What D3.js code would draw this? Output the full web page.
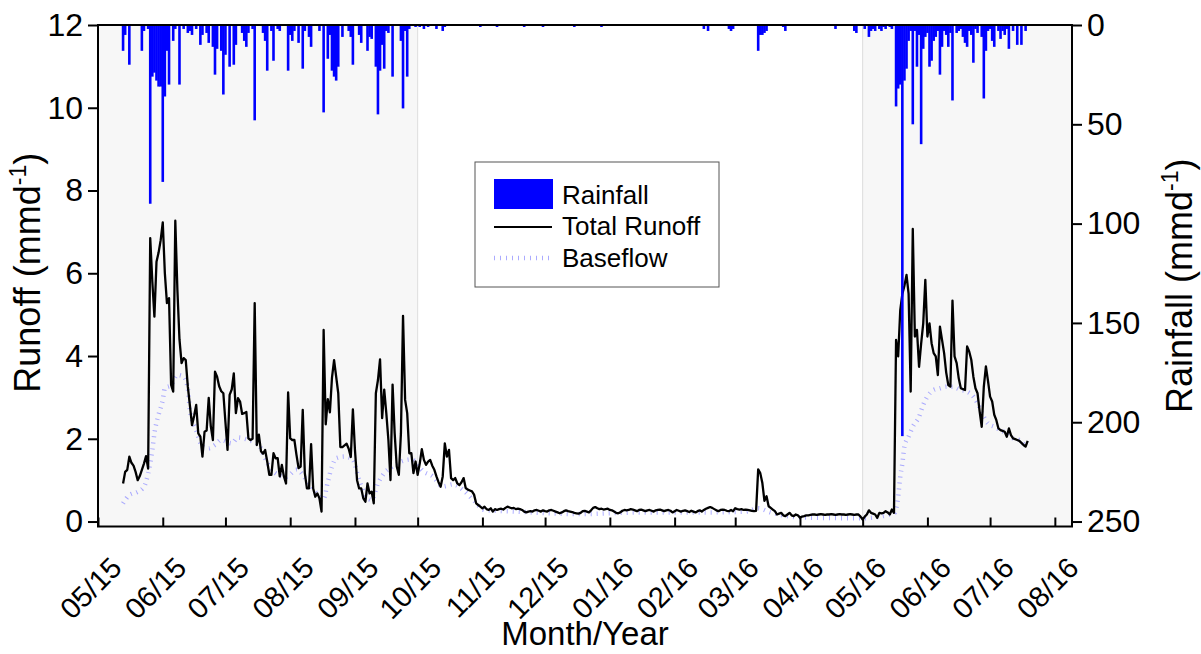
<!DOCTYPE html>
<html>
<head>
<meta charset="utf-8">
<script src="https://cdn.jsdelivr.net/npm/d3@7"></script>
<style>
  body { margin: 0; background: #fff; }
  text { font-family: "Liberation Sans", Arial, sans-serif; fill: #000; }
</style>
</head>
<body>
<script>
// ---- data ----
var axisStart = "2015-05-01",
    axisEnd = "2016-08-09";

// shaded wet seasons
var wetStart = ["2015-05-01", "2016-05-01"],
    wetEnd   = ["2015-10-01", "2016-08-09"];

// daily series, first value is on seriesStart
var seriesStart = "2015-05-13";

// total runoff (mm/d), daily
var runoff = [
  0.92,1.20,1.25,1.57,1.42,1.35,1.20,1.00,1.10,1.25,1.40,1.58,1.28,
  6.85,5.80,4.95,6.28,6.50,6.80,7.23,6.00,5.28,5.40,3.30,3.14,7.27,5.60,4.40,
  3.83,3.95,3.90,3.26,2.80,2.33,2.55,2.82,2.13,2.05,1.57,2.17,2.20,2.99,2.30,
  1.97,3.62,3.50,3.27,3.15,3.10,2.40,1.73,3.06,3.19,3.58,2.62,2.98,2.90,2.60,
  2.62,2.65,2.01,1.97,2.00,5.28,1.85,2.10,1.70,1.64,1.73,1.45,1.13,1.13,1.65,
  1.53,1.53,1.09,1.37,1.09,0.92,3.12,2.01,1.97,1.97,1.61,1.29,1.33,2.70,1.17,
  0.80,0.80,1.87,0.80,0.60,0.68,0.56,0.24,4.63,2.35,2.96,2.64,3.48,3.90,3.50,
  3.10,1.80,1.80,1.84,1.88,1.76,1.56,2.71,1.73,1.00,0.80,0.80,0.56,0.48,0.92,
  0.68,0.72,0.44,3.10,3.42,3.92,2.50,3.19,2.62,1.97,1.00,3.31,2.13,1.33,1.13,
  2.13,4.97,2.94,2.62,1.65,1.65,1.17,1.45,1.13,1.40,1.75,1.49,1.37,1.45,1.49,
  1.35,1.25,1.09,0.95,0.84,1.09,1.89,1.57,1.73,1.05,1.00,1.05,0.92,0.88,0.95,
  1.05,0.81,0.77,0.75,0.73,0.65,0.44,0.40,0.36,0.32,
  0.36,0.30,0.28,0.32,0.24,0.30,0.28,0.30,0.31,0.29,0.33,0.36,0.34,0.32,0.33,
  0.30,0.31,0.30,0.28,0.24,0.22,0.24,0.25,0.24,0.27,0.28,0.26,0.24,0.27,0.25,
  0.24,0.27,0.28,0.26,0.24,0.22,0.20,0.22,0.25,0.27,0.25,0.24,0.23,0.21,0.20,
  0.19,0.21,0.25,0.26,0.24,0.22,0.27,0.33,0.35,0.32,0.30,0.31,0.29,0.30,0.31,
  0.28,0.27,0.24,0.21,0.20,0.22,0.26,0.28,0.27,0.28,0.30,0.29,0.27,0.25,0.28,
  0.29,0.27,0.25,0.27,0.28,0.26,0.24,0.27,0.28,0.29,0.27,0.25,0.27,0.28,0.26,
  0.22,0.25,0.28,0.26,0.24,0.26,0.27,0.25,0.23,0.26,0.24,0.22,0.25,0.27,0.24,
  0.28,0.31,0.33,0.35,0.33,0.30,0.27,0.25,0.28,0.29,0.28,0.26,0.25,0.28,0.25,
  0.32,0.30,0.29,0.30,0.28,0.29,0.28,0.27,0.26,0.25,0.26,1.26,1.17,0.93,0.50,
  0.61,0.37,0.33,0.29,0.25,0.17,0.19,0.21,0.15,0.13,0.17,0.21,0.15,0.13,0.17,
  0.15,0.09,0.12,0.13,0.15,0.15,0.16,0.17,0.17,0.16,0.17,0.18,0.17,0.16,0.17,
  0.17,0.18,0.17,0.16,0.17,0.18,0.17,0.17,0.16,0.17,0.18,0.17,0.16,0.17,0.17,
  0.12,0.05,0.12,0.17,0.27,0.21,0.19,0.17,0.09,0.21,0.20,0.21,0.25,0.22,0.17,
  0.29,0.21,
  4.39,3.99,5.11,5.50,5.70,5.96,5.50,3.14,7.07,4.47,4.63,3.74,4.30,4.79,5.84,
  4.47,4.79,4.31,4.07,3.99,3.54,4.71,4.39,4.07,3.60,3.30,3.26,5.34,3.99,3.83,
  3.46,3.22,3.20,3.18,4.23,4.11,3.91,3.50,3.22,3.10,2.66,2.29,3.26,3.75,3.40,
  3.02,2.90,2.58,2.45,2.25,2.21,2.19,2.17,2.05,2.25,2.09,2.01,1.99,1.97,1.95,
  1.90,1.85,1.81,1.95
];

// rainfall (mm/d), daily
var rainfall = [
  13,5,0,20,0,0,0,0,0,13,3,0,2,
  90,26,24,28,31,31,79,36,13,30,0,8,2,0,30,
  0,2,0,4,3,5,0,2,0,10,5,0,4,9,0,
  11,25,12,0,13,35,15,0,21,0,20,10,0,0,4,
  8,11,4,0,2,48,0,0,0,4,8,23,0,3,18,
  0,2,3,0,0,0,23,5,8,3,0,9,0,22,3,
  0,6,11,0,0,0,3,0,44,0,17,5,23,26,28,
  21,0,6,0,0,3,6,20,0,0,5,9,0,0,13,
  6,7,0,21,45,23,10,22,3,4,0,26,0,0,0,
  8,42,3,26,2,0,0,1,0,1,0,2,0,1,0,
  0,0,2,0,0,3,1,0,0,0,0,0,0,0,0,
  0,0,0,0,0,0,0,0,1,0,0,0,0,0,0,
  0,1,0,0,0,0,0,0,0,0,0,0,0,0,1,
  0,0,0,0,0,0,0,0,1,0,0,0,0,0,0,
  0,0,0,0,0,0,0,0,1,0,0,0,0,0,0,
  0,0,0,0,0,0,1,0,0,0,0,0,0,0,0,
  0,0,0,0,0,0,0,0,0,0,0,0,0,0,0,
  0,0,0,0,0,0,0,0,0,0,0,0,0,0,0,
  0,0,0,0,0,0,0,0,0,0,2,0,3,0,0,
  0,0,0,0,0,0,0,2,3,2,0,0,0,0,0,
  0,0,0,0,0,0,13,5,5,4,3,0,0,0,0,
  0,0,0,1,3,0,0,0,0,0,0,0,0,0,0,
  0,0,0,0,0,0,0,0,0,0,0,0,0,2,0,
  0,0,0,0,0,0,0,3,4,0,0,0,2,0,6,
  3,2,3,0,2,3,1,2,0,1,2,0,
  41,32,30,207,28,22,8,3,50,3,21,5,60,12,6,
  4,21,18,8,6,3,25,11,3,5,11,4,38,0,4,
  3,2,6,9,11,3,5,19,2,4,0,6,37,13,3,
  2,8,11,0,3,7,3,5,2,12,0,3,0,10,0,
  10,0,3,0
];

// baseflow (mm/d), read at irregular days counted from axisStart
var baseflowDay = [12,15,19,22,24,26,27,29,31,32,35,38,41,43,44,47,50,53,56,59,64,67,72,77,80,83,90,95,101,
  108,110,112,114,118,122,125,128,131,134,137,141,145,150,156,160,165,170,175,180,185,200,230,260,290,310,
  316,322,336,366,381,383,384,385,386,388,390,393,395,397,400,403,406,409,413,416,419,421,424,426,429,432,
  435,438,441,444];
var baseflowValue = [0.44,0.64,0.72,0.84,1.16,1.73,2.13,2.58,2.94,3.22,3.30,3.54,3.50,3.22,2.70,2.21,1.81,1.77,
  1.85,1.97,1.89,2.03,1.97,1.85,1.53,1.25,1.08,1.25,0.92,0.56,0.96,1.33,1.53,1.57,1.49,1.00,0.64,0.52,0.92,
  1.17,1.33,1.45,1.50,1.20,1.10,0.85,0.90,0.75,0.50,0.28,0.24,0.18,0.22,0.22,0.24,0.32,0.22,0.10,0.08,0.20,
  0.60,1.08,1.40,1.81,2.05,2.29,2.53,2.82,3.02,3.18,3.22,3.26,3.26,3.18,3.14,3.02,2.86,2.53,2.37,2.29,2.21,
  2.13,2.01,1.97,1.81];

var runoffTicks = [0, 2, 4, 6, 8, 10, 12],
    rainTicks = [0, 50, 100, 150, 200, 250];

// ---- chart ----
var width = 1201,
    height = 654;
var margin = {top: 25, right: 129, bottom: 127.5, left: 98};
var w = width - margin.left - margin.right,
    h = height - margin.top - margin.bottom;

var parse = d3.timeParse("%Y-%m-%d");
var t0 = parse(seriesStart);

var svg = d3.select("body").append("svg")
    .attr("width", width)
    .attr("height", height);

var g = svg.append("g")
    .attr("transform", "translate(" + margin.left + "," + margin.top + ")");

var x = d3.scaleTime()
    .domain([parse(axisStart), d3.timeHour.offset(parse(axisEnd), 5)])
    .range([0, w]);

var y = d3.scaleLinear()
    .domain([-0.12, 12])
    .range([h, 0]);

var yRain = d3.scaleLinear()
    .domain([0, 252.5])
    .range([0, h]);

var runoffData = runoff.map(function(v, i){ return {date: d3.timeDay.offset(t0, i), v: v}; });
var rainData = rainfall.map(function(v, i){ return {date: d3.timeDay.offset(t0, i), v: v}; })
    .filter(function(d){ return d.v > 0; });
var baseData = baseflowDay.map(function(d, i){
    return {date: d3.timeDay.offset(parse(axisStart), d), v: baseflowValue[i]};
});

// wet season shading
g.selectAll("rect.season")
    .data(wetStart)
    .enter()
    .append("rect")
    .attr("class", "season")
    .attr("x", function(d){ return x(parse(d)); })
    .attr("y", 0)
    .attr("width", function(d, i){ return x(parse(wetEnd[i])) - x(parse(d)); })
    .attr("height", h)
    .attr("fill", "#f7f7f7")
    .attr("stroke", "#dddddd")
    .attr("stroke-width", 1);

// baseflow
var line = d3.line()
    .x(d => x(d.date))
    .y(d => y(d.v));

g.append("path")
    .datum(baseData)
    .attr("d", line.curve(d3.curveMonotoneX))
    .attr("fill", "none")
    .attr("stroke", "#8f8fff")
    .attr("stroke-width", 4.5)
    .attr("stroke-dasharray", "1,5")
    .attr("opacity", 0.75);

// total runoff
g.append("path")
    .datum(runoffData)
    .attr("d", d3.line().x(d => x(d.date)).y(d => y(d.v)))
    .attr("fill", "none")
    .attr("stroke", "#000")
    .attr("stroke-width", 2.3)
    .attr("stroke-linejoin", "round");

// rainfall bars hanging from the top
g.selectAll("rect.rain")
    .data(rainData)
    .enter()
    .append("rect")
    .attr("class", "rain")
    .attr("x", function(d){ return x(d.date) - 1.3; })
    .attr("y", 0)
    .attr("width", 2.6)
    .attr("height", function(d){ return yRain(d.v); })
    .attr("fill", "#0000ff");

// axes
var yAxis = g.append("g")
    .call(d3.axisLeft(y).tickValues(runoffTicks).tickSize(10).tickPadding(5));
var rAxis = g.append("g")
    .attr("transform", "translate(" + w + ",0)")
    .call(d3.axisRight(yRain).tickValues(rainTicks).tickSize(10).tickPadding(5));
var xAxis = g.append("g")
    .attr("transform", "translate(0," + h + ")")
    .call(d3.axisBottom(x).ticks(d3.timeMonth.every(1)).tickFormat(d3.timeFormat("%m/%y")).tickSize(-9));

[yAxis, rAxis, xAxis].forEach(function(a){
    a.select(".domain").remove();
    a.selectAll(".tick line").attr("stroke", "#000").attr("stroke-width", 2);
    a.selectAll("text").style("font-size", "32px").attr("fill", "#000");
});
xAxis.selectAll("text")
    .style("font-size", "29px")
    .attr("x", 0).attr("y", 0).attr("dy", 0)
    .attr("text-anchor", "end")
    .attr("transform", "translate(25,43) rotate(-45)");

// frame
g.append("rect")
    .attr("width", w)
    .attr("height", h)
    .attr("fill", "none")
    .attr("stroke", "#000")
    .attr("stroke-width", 2);

// axis titles
var lt = svg.append("text")
    .attr("transform", "translate(40," + (margin.top + h / 2 - 3) + ") rotate(-90)")
    .attr("text-anchor", "middle")
    .style("font-size", "36px");
lt.append("tspan").text("Runoff (mmd");
lt.append("tspan").attr("dy", -14).style("font-size", "23px").text("-1");
lt.append("tspan").attr("dy", 14).text(")");

var rt = svg.append("text")
    .attr("transform", "translate(1192," + (margin.top + h / 2 + 10) + ") rotate(-90)")
    .attr("text-anchor", "middle")
    .style("font-size", "36px");
rt.append("tspan").text("Rainfall (mmd");
rt.append("tspan").attr("dy", -14).style("font-size", "23px").text("-1");
rt.append("tspan").attr("dy", 14).text(")");

svg.append("text")
    .attr("x", margin.left + w / 2)
    .attr("y", 645)
    .attr("text-anchor", "middle")
    .style("font-size", "33px")
    .text("Month/Year");

// legend
var lg = svg.append("g").attr("transform", "translate(475,162)");
lg.append("rect")
    .attr("width", 244).attr("height", 125)
    .attr("fill", "#fff").attr("stroke", "#555").attr("stroke-width", 1);
lg.append("rect")
    .attr("x", 19).attr("y", 17).attr("width", 59).attr("height", 30)
    .attr("fill", "#0000ff");
lg.append("line")
    .attr("x1", 19).attr("x2", 77).attr("y1", 65).attr("y2", 65)
    .attr("stroke", "#000").attr("stroke-width", 2);
lg.append("line")
    .attr("x1", 19).attr("x2", 77).attr("y1", 96).attr("y2", 96)
    .attr("stroke", "#8f8fff").attr("stroke-width", 4.5)
    .attr("stroke-dasharray", "1,5").attr("opacity", 0.75);
var labels = ["Rainfall", "Total Runoff", "Baseflow"];
lg.selectAll("text.lab")
    .data(labels)
    .enter()
    .append("text")
    .attr("class", "lab")
    .attr("x", 87)
    .attr("y", function(d, i){ return [42, 73, 105][i]; })
    .style("font-size", "26px")
    .text(d => d);
</script>
</body>
</html>
